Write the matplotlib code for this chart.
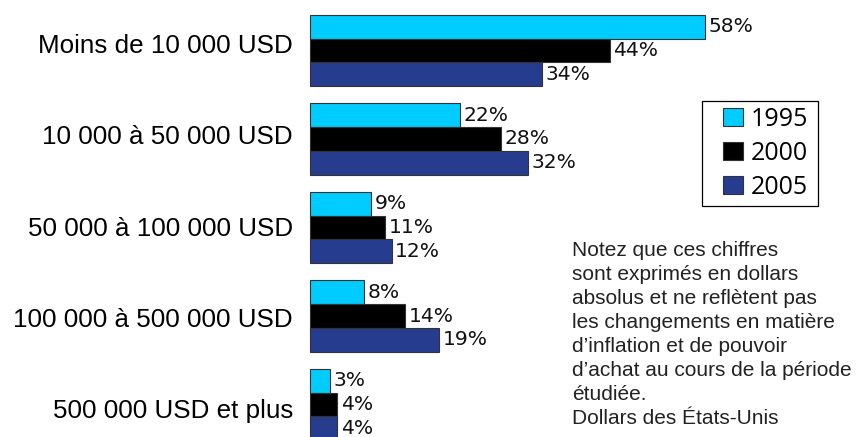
import matplotlib
matplotlib.use("Agg")
import matplotlib.pyplot as plt
from matplotlib.patches import Rectangle
import numpy as np

categories = ["Moins de 10 000 USD", "10 000 à 50 000 USD", "50 000 à 100 000 USD",
              "100 000 à 500 000 USD", "500 000 USD et plus"]
years = ["1995", "2000", "2005"]
v1995 = [58, 22, 9, 8, 3]
v2000 = [44, 28, 11, 14, 4]
v2005 = [34, 32, 12, 19, 4]
colors = ["#00CCFF", "#000000", "#263C8E"]
note_lines = ["Notez que ces chiffres", "sont exprimés en dollars",
              "absolus et ne reflètent pas", "les changements en matière",
              "d\u2019inflation et de pouvoir", "d\u2019achat au cours de la période",
              "étudiée.", "Dollars des États-Unis"]

W, H = 856, 437
fig = plt.figure(figsize=(W / 100, H / 100), dpi=100)
ax = fig.add_axes([310 / W, 0, 1 - 310 / W, 1])
ax.set_xlim(0, (W - 310) / 6.81)
ax.set_ylim((H - 50.5) / 88.5, -50.5 / 88.5)
ax.axis("off")

bh = 23.7 / 88.5
y = np.arange(len(categories))
series = [v1995, v2000, v2005]
handles = []
for k, (vals, col) in enumerate(zip(series, colors)):
    pos = y + (k - 1) * bh
    b = ax.barh(pos, vals, height=bh, color=col, edgecolor="#333333", linewidth=0.8,
                label=years[k], clip_on=False)
    handles.append(b)
    for p, v in zip(pos, vals):
        ax.annotate(f"{v}%", (v, p), xytext=(2.5, 0), textcoords="offset points",
                    va="center", ha="left", fontsize=14.6, family="DejaVu Sans",
                    color="#111111")

for yi, c in zip(y, categories):
    fig.text(293 / W, 1 - (53 + 91.3 * yi) / H, c, ha="right", va="baseline",
             fontsize=18.7, family="Liberation Sans", color="#000000")

# legend frame (decoration) and legend content
fig.patches.append(Rectangle((702 / W, 1 - 206 / H), 116 / W, 105 / H,
                             transform=fig.transFigure, fill=False,
                             edgecolor="#000000", linewidth=0.9))
leg = fig.legend(handles=handles, labels=years, loc="upper left",
                 bbox_to_anchor=(723 / W, 1 - 106.5 / H), frameon=False,
                 prop={"family": "Open Sans", "size": 18}, handlelength=0.8,
                 handleheight=0.76, handletextpad=0.32, labelspacing=0.36,
                 borderpad=0, borderaxespad=0)

for i, line in enumerate(note_lines):
    fig.text(572 / W, 1 - (256 + 24 * i) / H, line, ha="left", va="baseline",
             fontsize=15, family="Liberation Sans", color="#222222")

fig.savefig("out.png", dpi=100)
